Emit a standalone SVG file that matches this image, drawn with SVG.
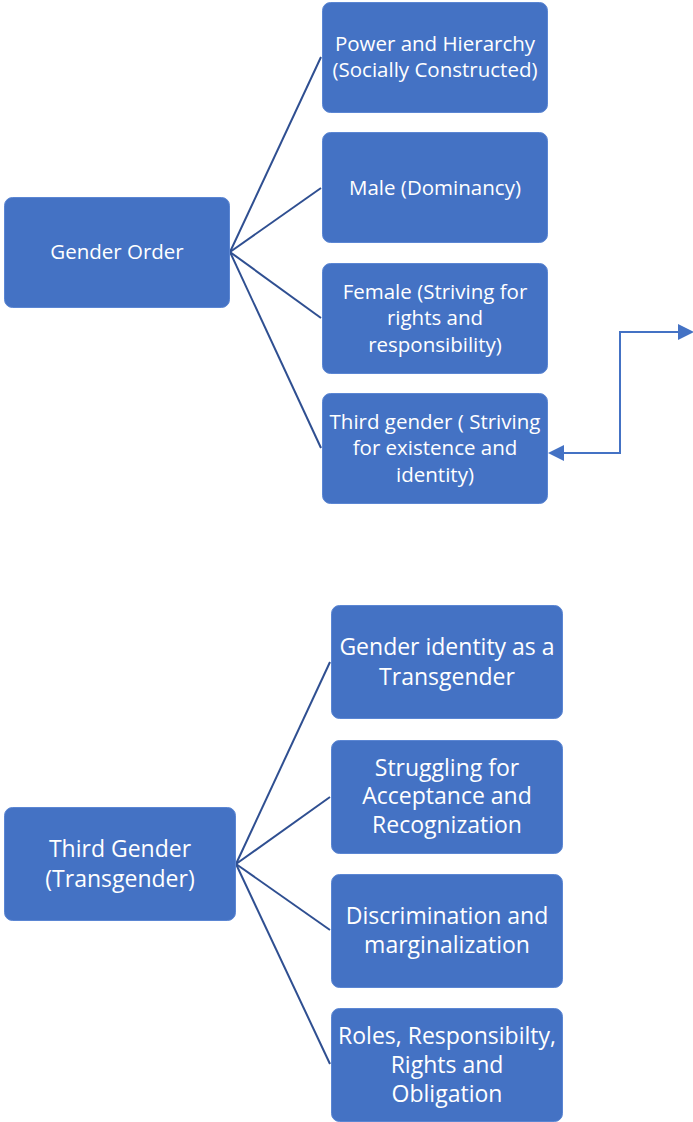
<svg xmlns="http://www.w3.org/2000/svg" width="693" height="1122" viewBox="0 0 693 1122">
<style>
.box{fill:#4472C4;stroke:#5B86D3;stroke-width:1}
.t{font-family:"Open Sans","Noto Sans",sans-serif;fill:#ffffff;text-anchor:middle}
.s{font-size:20.5px}
.b{font-size:23px}
.c{stroke:#2F4F91;stroke-width:2;fill:none}
.a{stroke:#4472C4;stroke-width:2;fill:none}
</style>
<defs>
<marker id="ah" markerWidth="8" markerHeight="8" refX="7" refY="4" orient="auto-start-reverse" markerUnits="strokeWidth">
<path d="M0,0 L8,4 L0,8 Z" fill="#4472C4"/>
</marker>
</defs>
<g id="connectors">
<line class="c" x1="230" y1="252" x2="321" y2="57"/>
<line class="c" x1="230" y1="252" x2="321" y2="188"/>
<line class="c" x1="230" y1="252" x2="321" y2="318"/>
<line class="c" x1="230" y1="252" x2="321" y2="448"/>
<line class="c" x1="236" y1="864" x2="330" y2="662"/>
<line class="c" x1="236" y1="864" x2="330" y2="797"/>
<line class="c" x1="236" y1="864" x2="330" y2="930"/>
<line class="c" x1="236" y1="864" x2="330" y2="1064"/>
<path class="a" d="M550,453 L620,453 L620,332 L692,332" marker-start="url(#ah)" marker-end="url(#ah)"/>
</g>
<g id="gender-order">
<rect class="box" x="4.5" y="197.5" width="225" height="110" rx="8"/>
<text class="t s" x="117" y="259">Gender Order</text>
</g>
<g id="power">
<rect class="box" x="322.5" y="2.5" width="225" height="110" rx="8"/>
<text class="t s" x="435" y="51">Power and Hierarchy</text>
<text class="t s" x="435" y="77">(Socially Constructed)</text>
</g>
<g id="male">
<rect class="box" x="322.5" y="132.5" width="225" height="110" rx="8"/>
<text class="t s" x="435" y="195">Male (Dominancy)</text>
</g>
<g id="female">
<rect class="box" x="322.5" y="263.5" width="225" height="110" rx="8"/>
<text class="t s" x="435" y="299">Female (Striving for</text>
<text class="t s" x="435" y="325">rights and</text>
<text class="t s" x="435" y="352">responsibility)</text>
</g>
<g id="third-gender-top">
<rect class="box" x="322.5" y="393.5" width="225" height="110" rx="8"/>
<text class="t s" x="435" y="429">Third gender ( Striving</text>
<text class="t s" x="435" y="455">for existence and</text>
<text class="t s" x="435" y="482">identity)</text>
</g>
<g id="third-gender">
<rect class="box" x="4.5" y="807.5" width="231" height="113" rx="8"/>
<text class="t b" x="120" y="857">Third Gender</text>
<text class="t b" x="120" y="887">(Transgender)</text>
</g>
<g id="identity">
<rect class="box" x="331.5" y="605.5" width="231" height="113" rx="8"/>
<text class="t b" x="447" y="655">Gender identity as a</text>
<text class="t b" x="447" y="685">Transgender</text>
</g>
<g id="struggling">
<rect class="box" x="331.5" y="740.5" width="231" height="113" rx="8"/>
<text class="t b" x="447" y="776">Struggling for</text>
<text class="t b" x="447" y="804">Acceptance and</text>
<text class="t b" x="447" y="833">Recognization</text>
</g>
<g id="discrimination">
<rect class="box" x="331.5" y="874.5" width="231" height="113" rx="8"/>
<text class="t b" x="447" y="924">Discrimination and</text>
<text class="t b" x="447" y="953">marginalization</text>
</g>
<g id="roles">
<rect class="box" x="331.5" y="1008.5" width="231" height="113" rx="8"/>
<text class="t b" x="447" y="1044">Roles, Responsibilty,</text>
<text class="t b" x="447" y="1073">Rights and</text>
<text class="t b" x="447" y="1102">Obligation</text>
</g>
</svg>
